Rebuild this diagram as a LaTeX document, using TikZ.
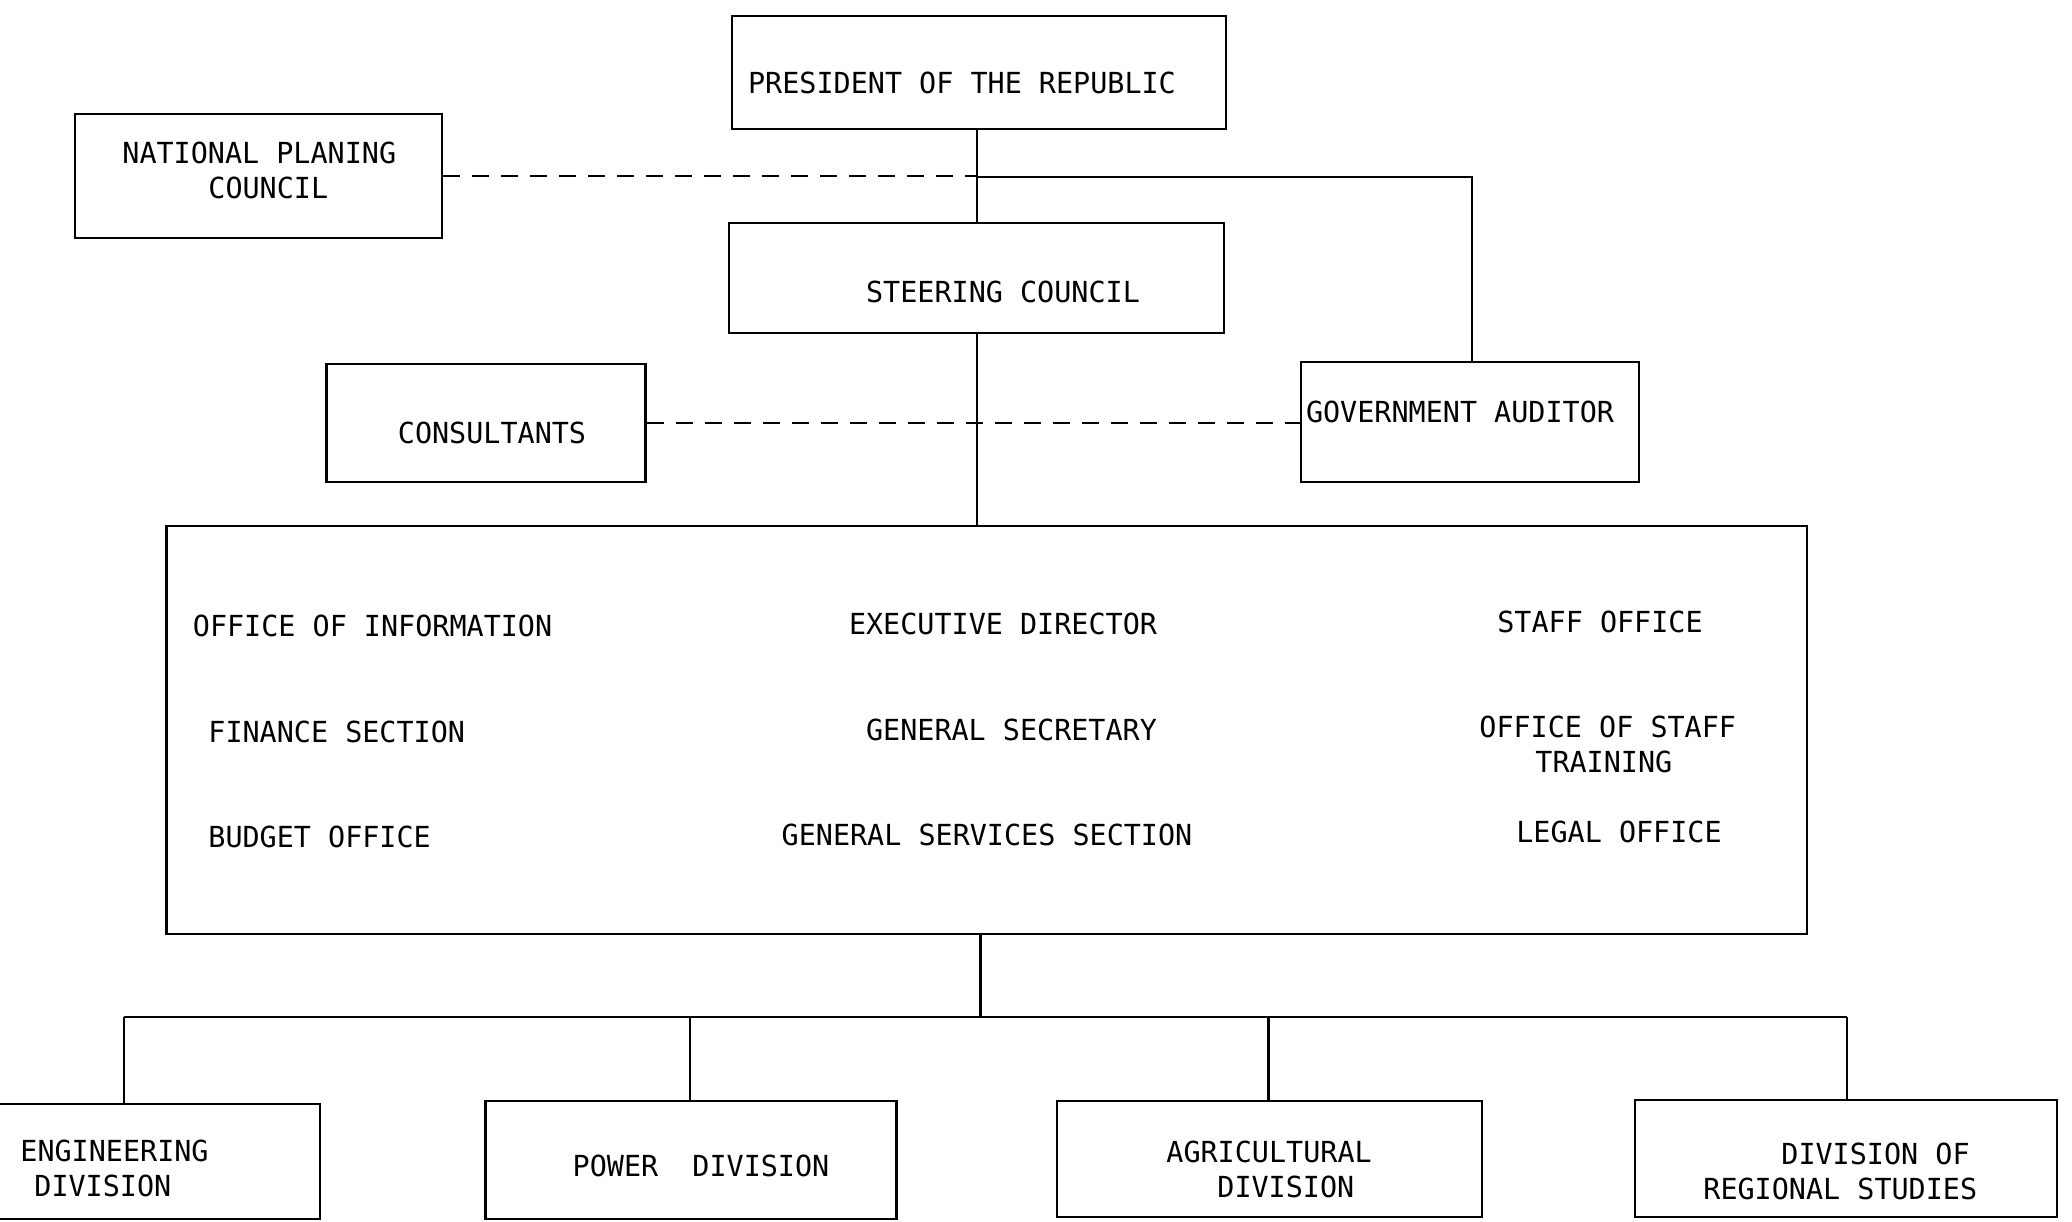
\documentclass[tikz,border=0pt]{standalone}
\usepackage{fontspec}
\newfontfamily\chartfont[FakeStretch=0.98]{DejaVu Sans Mono}
\begin{document}
\begin{tikzpicture}[x=0.5pt,y=-0.5pt,
  box/.style={draw, line width=1.1pt, inner sep=0pt},
  lbl/.style={font=\chartfont\fontsize{14.5}{17.5}\selectfont, inner sep=0pt, align=center},
  lbll/.style={font=\chartfont\fontsize{14.5}{17.5}\selectfont, inner sep=0pt, align=left, anchor=west},
  link/.style={line width=1.1pt},
  dlink/.style={line width=1.1pt, dash pattern=on 8.5pt off 6pt}]
\useasboundingbox (0,0) rectangle (2072,1221);
\clip (0,0) rectangle (2072,1221);

% boxes
\node[box, minimum width=247pt, minimum height=56.5pt] (pres) at (979,72.5) {};
\node[box, minimum width=183.5pt, minimum height=62pt] (npc) at (258.5,176) {};
\node[box, minimum width=247.5pt, minimum height=55pt] (steer) at (976.5,278) {};
\node[box, minimum width=159.5pt, minimum height=59pt] (cons) at (486,423) {};
\node[box, minimum width=168.75pt, minimum height=60pt] (aud) at (1470,422) {};
\node[box, minimum width=820.25pt, minimum height=204pt] (big) at (986.75,730) {};
\node[box, minimum width=175pt, minimum height=57.5pt] (eng) at (145,1161.5) {};
\node[box, minimum width=205.5pt, minimum height=59pt] (pow) at (691,1160) {};
\node[box, minimum width=212.5pt, minimum height=58pt] (agr) at (1269.5,1159) {};
\node[box, minimum width=211pt, minimum height=58.5pt] (reg) at (1846,1158.5) {};

% labels
\node[lbl] (presT) at (962,83) {PRESIDENT OF THE REPUBLIC};
\node[lbll] (npcT) at (122,170.5) {NATIONAL PLANING\\\hspace*{43pt}COUNCIL};
\node[lbl] (steerT) at (1003,292) {STEERING COUNCIL};
\node[lbl] (consT) at (492,433) {CONSULTANTS};
\node[lbl] (audT) at (1460,412) {GOVERNMENT AUDITOR};

\node[lbll] (oinf) at (192.5,626) {OFFICE OF INFORMATION};
\node[lbll] (fin) at (208,732) {FINANCE SECTION};
\node[lbll] (bud) at (208,837) {BUDGET OFFICE};
\node[lbl] (exd) at (1003,624) {EXECUTIVE DIRECTOR};
\node[lbl] (gsec) at (1011.5,730) {GENERAL SECRETARY};
\node[lbl] (gss) at (987,835) {GENERAL SERVICES SECTION};
\node[lbl] (stf) at (1600,622) {STAFF OFFICE};
\node[lbll] (ost) at (1479,744.5) {OFFICE OF STAFF\\\hspace*{28pt}TRAINING};
\node[lbl] (leg) at (1619,832) {LEGAL OFFICE};

\node[lbll] (engT) at (20,1168.5) {ENGINEERING\\\hspace*{7pt}DIVISION};
\node[lbl] (powT) at (701,1166) {POWER~~DIVISION};
\node[lbll] (agrT) at (1166,1169) {AGRICULTURAL\\\hspace*{25.5pt}DIVISION};
\node[lbll] (regT) at (1703,1171.5) {\hspace*{39pt}DIVISION OF\\REGIONAL STUDIES};

% connectors
\coordinate (spine) at (977,177);
\coordinate (audj) at (1472,177);
\draw[link] (pres.south -| spine) -- (steer.north -| spine);
\draw[link] (spine) -- (audj) -- (audj |- aud.north);
\draw[dlink] (npc.east) -- (npc.east -| spine);
\draw[link] (steer.south -| spine) -- (big.north -| spine);
\draw[dlink] (cons.east) -- (cons.east -| aud.west);

\coordinate (busc) at (980.5,1017);
\coordinate (b1) at (124,1017);
\coordinate (b2) at (690,1017);
\coordinate (b3) at (1268.5,1017);
\coordinate (b4) at (1847,1017);
\draw[link] (big.south -| busc) -- (busc);
\draw[link] (b1) -- (b4);
\draw[link] (b1) -- (b1 |- eng.north);
\draw[link] (b2) -- (b2 |- pow.north);
\draw[link] (b3) -- (b3 |- agr.north);
\draw[link] (b4) -- (b4 |- reg.north);
\end{tikzpicture}
\end{document}
